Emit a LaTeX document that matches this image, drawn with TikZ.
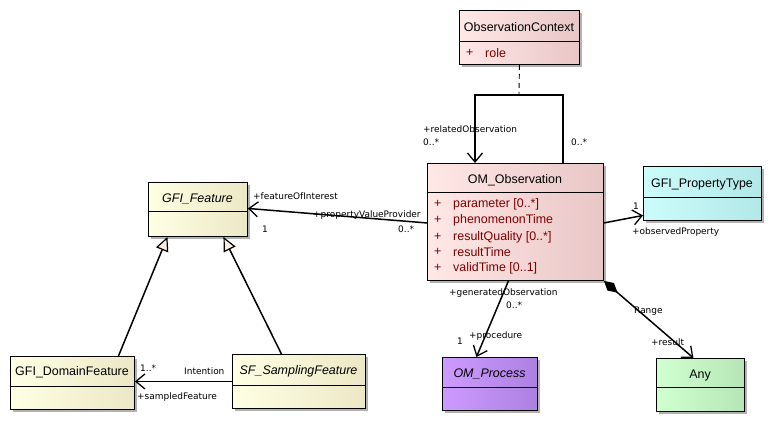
\documentclass[tikz,border=0pt]{standalone}
\usepackage{fontspec}
\setmainfont{Liberation Sans}
\newfontfamily\lblfont{DejaVu Sans}
\usetikzlibrary{arrows.meta,shadows,calc}
\definecolor{pinkL}{RGB}{255,232,230}
\definecolor{pinkR}{RGB}{232,198,198}
\definecolor{yelL}{RGB}{255,255,228}
\definecolor{yelR}{RGB}{236,232,198}
\definecolor{cyaL}{RGB}{204,252,252}
\definecolor{cyaR}{RGB}{178,232,232}
\definecolor{purL}{RGB}{205,155,255}
\definecolor{purR}{RGB}{172,128,225}
\definecolor{grnL}{RGB}{208,255,208}
\definecolor{grnR}{RGB}{182,230,182}
\definecolor{attr}{RGB}{128,0,0}
\definecolor{trifill}{RGB}{252,238,228}
\tikzset{
  cls/.style={draw=black, line width=0.9bp, anchor=north west, inner sep=0pt,
    drop shadow={shadow xshift=3bp, shadow yshift=-3bp, fill=black!30, opacity=1}},
  title/.style={font=\fontsize{12.5}{14}\selectfont, inner sep=0pt},
  ititle/.style={title, font=\fontsize{12.5}{14}\selectfont\itshape},
  att/.style={font=\fontsize{12.5}{14}\selectfont, text=attr, anchor=west, inner sep=0pt},
  lbl/.style={font=\lblfont\fontsize{9}{10}\selectfont, anchor=west, inner sep=0pt},
  assoc/.style={line width=1.5bp},
  openarr/.style={-{Straight Barb[length=9bp,width=15bp,line width=1.3bp]}},
  gen/.style={-{Triangle[open,length=14bp,width=13bp,fill=trifill,line width=1.2bp]}},
  comp/.style={{Diamond[length=18bp,width=10bp]}-{Straight Barb[length=9bp,width=15bp,line width=1.3bp]}},
}
\begin{document}
\begin{tikzpicture}[x=1bp,y=-1bp]
\useasboundingbox (0,0) rectangle (772,422);
% classes
\node[cls, left color=pinkL, right color=pinkR, minimum width=120bp, minimum height=54bp] (oc) at (459,10) {};
\draw[line width=0.9bp] (459,41) -- (579,41);
\node[title] (octitle) at (519,27) {ObservationContext};
\node[att] (ocplus) at (466,53) {+};
\node[att] (ocrole) at (485,53) {role};

\node[cls, left color=pinkL, right color=pinkR, minimum width=176bp, minimum height=117bp] (obs) at (427,163) {};
\draw[line width=0.9bp] (427,192) -- (603,192);
\node[title] (obstitle) at (515,180) {OM\_Observation};
\foreach \t/\yy [count=\i] in {{parameter [0..*]}/204, phenomenonTime/220, {resultQuality [0..*]}/237, resultTime/252, {validTime [0..1]}/268}{
  \node[att] (obsp\i) at (434,\yy) {+};
  \node[att] (obsa\i) at (453,\yy) {\t};
}

\node[cls, left color=cyaL, right color=cyaR, minimum width=118bp, minimum height=54bp] (pt) at (643,166) {};
\draw[line width=0.9bp] (643,197) -- (761,197);
\node[title] (pttitle) at (702,184) {GFI\_PropertyType};

\node[cls, left color=yelL, right color=yelR, minimum width=99bp, minimum height=54bp] (feat) at (148,182) {};
\draw[line width=0.9bp] (148,211) -- (247,211);
\node[ititle] (feattitle) at (197.5,199) {GFI\_Feature};

\node[cls, left color=yelL, right color=yelR, minimum width=124bp, minimum height=53bp] (dom) at (10,356) {};
\draw[line width=0.9bp] (10,386) -- (134,386);
\node[title] (domtitle) at (72,372) {GFI\_DomainFeature};

\node[cls, left color=yelL, right color=yelR, minimum width=133bp, minimum height=54bp] (samp) at (232,354) {};
\draw[line width=0.9bp] (232,385) -- (365,385);
\node[ititle] (samptitle) at (298.5,371) {SF\_SamplingFeature};

\node[cls, left color=purL, right color=purR, minimum width=95bp, minimum height=53bp] (proc) at (442,357) {};
\draw[line width=0.9bp] (442,387) -- (537,387);
\node[ititle] (proctitle) at (489.5,374) {OM\_Process};

\node[cls, left color=grnL, right color=grnR, minimum width=88bp, minimum height=53bp] (any) at (656,358) {};
\draw[line width=0.9bp] (656,387) -- (744,387);
\node[title] (anytitle) at (700,375) {Any};

% self association with association class
\coordinate (loopmid) at (519,95);
\draw[assoc, openarr] ([xshift=136bp]obs.north west) |- (loopmid) -| ([xshift=48bp]obs.north west);
\draw[line width=0.9bp, dash pattern=on 5bp off 4bp] (oc.south) -- (loopmid);
\node[lbl] (l1) at (423,129) {+relatedObservation};
\node[lbl] (l2) at (423,142) {0..*};
\node[lbl] (l3) at (571,142) {0..*};

% observedProperty
\draw[assoc, openarr] ([yshift=-1bp]obs.east) -- ([yshift=-22bp]pt.west);
\node[lbl] (l4) at (633,206) {1};
\node[lbl] (l5) at (632,232) {+observedProperty};

% featureOfInterest
\draw[assoc, openarr] ([yshift=-1bp]obs.west) -- ([yshift=1bp]feat.east);
\node[lbl] (l6) at (253,196) {+featureOfInterest};
\node[lbl] (l7) at (262,229) {1};
\node[lbl] (l8) at (313,215) {+propertyValueProvider};
\node[lbl] (l9) at (398,229) {0..*};

% procedure
\draw[assoc, openarr] ([xshift=-7bp]obs.south) -- ([xshift=-13.5bp]proc.north);
\node[lbl] (l10) at (449,293) {+generatedObservation};
\node[lbl] (l11) at (506,305) {0..*};
\node[lbl] (l12) at (469,336) {+procedure};
\node[lbl] (l13) at (457,341) {1};

% result (composition)
\draw[assoc, comp] (obs.south east) -- ([xshift=-7bp]any.north);
\node[lbl] (l14) at (634,311) {Range};
\node[lbl] (l15) at (651,342) {+result};

% sampledFeature
\draw[assoc, openarr] (samp.west) -- (samp.west -| dom.east);
\node[lbl] (l16) at (184,371) {Intention};
\node[lbl] (l17) at (140,368) {1..*};
\node[lbl] (l18) at (137,397) {+sampledFeature};

% generalizations
\draw[assoc, gen] ([xshift=46bp]dom.north) -- ([xshift=-30.5bp]feat.south);
\draw[assoc, gen] ([xshift=-17.5bp]samp.north) -- ([xshift=25.5bp]feat.south);
\end{tikzpicture}
\end{document}
